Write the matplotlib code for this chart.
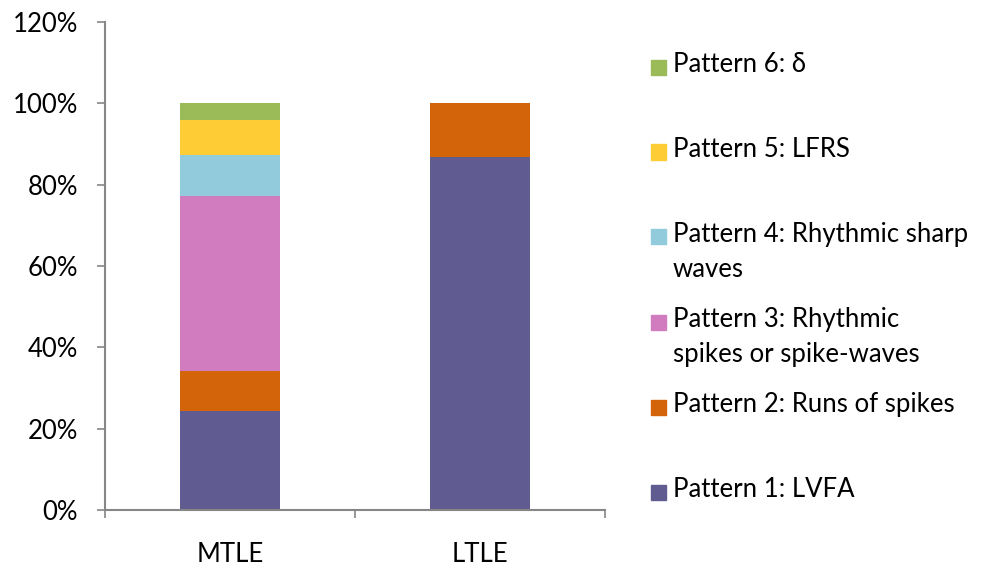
import matplotlib.pyplot as plt
from matplotlib.patches import Rectangle
from matplotlib.ticker import PercentFormatter
import numpy as np

# share of seizures per onset pattern, in percent
groups = ["MTLE", "LTLE"]
patterns = ["Pattern 1: LVFA",
            "Pattern 2: Runs of spikes",
            "Pattern 3: Rhythmic\nspikes or spike-waves",
            "Pattern 4: Rhythmic sharp\nwaves",
            "Pattern 5: LFRS",
            "Pattern 6: \u03b4"]
mtle = [24.3, 10.0, 42.9, 10.0, 8.6, 4.2]
ltle = [86.7, 13.3, 0.0, 0.0, 0.0, 0.0]
colors = ["#605c91", "#d4640a", "#d07cbe", "#92cbdc", "#fecc34", "#9bbb59"]

plt.rcParams['font.family'] = ['Lato', 'DejaVu Sans']
axis_grey = "#868686"
fs = 18.5

fig = plt.figure(figsize=(9.86, 5.67), dpi=100)
ax = fig.add_axes([105/986, 1 - 510/567, 500/986, 488/567])

x = np.arange(len(groups))
bottom = np.zeros(len(groups))
for i, name in enumerate(patterns):
    vals = np.array([mtle[i], ltle[i]])
    ax.bar(x, vals, width=0.4, bottom=bottom, color=colors[i], linewidth=0)
    bottom += vals

ax.set_xlim(-0.5, 1.5)
ax.set_ylim(0, 120)
ax.set_yticks(np.arange(0, 121, 20))
ax.yaxis.set_major_formatter(PercentFormatter(decimals=0))
ax.set_xticks([-0.5, 0.5, 1.5], labels=["", "", ""])
ax.set_xticks(x, labels=groups, minor=True)

for side in ["top", "right"]:
    ax.spines[side].set_visible(False)
for side in ["left", "bottom"]:
    ax.spines[side].set_color(axis_grey)
    ax.spines[side].set_linewidth(1.5)

ax.tick_params(axis="y", length=6, width=1.2, color=axis_grey, pad=13.5, labelsize=fs)
ax.tick_params(axis="x", which="major", length=6, width=1.2, color=axis_grey)
ax.tick_params(axis="x", which="minor", length=0, pad=23, labelsize=fs)

# legend drawn top-down, one row per pattern
for k, i in enumerate(reversed(range(len(patterns)))):
    yc = 67 + 85 * k
    fig.patches.append(Rectangle((651/986, 1 - (yc + 7.5)/567), 15/986, 15/567,
                                 transform=fig.transFigure, color=colors[i]))
    fig.text(673/986, 1 - (yc - 15)/567, patterns[i], fontsize=fs,
             va="top", ha="left", linespacing=1.5)

fig.savefig("out.png", dpi=100)
